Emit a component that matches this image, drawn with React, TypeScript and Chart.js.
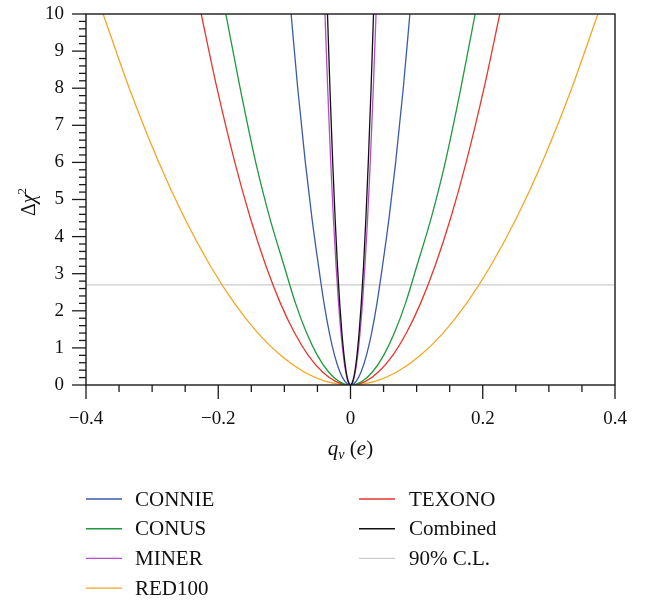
import React, { useEffect, useRef } from 'react';
import { Chart, registerables } from 'chart.js';
Chart.register(...registerables);

// Δχ² levels at which the curve positions were read (shared by all series)
const chiLevels = [0, 0.1, 0.35, 0.8, 1.4, 2.2, 3.2, 4.5, 6, 8, 10];
// |q_ν| (in e) at each Δχ² level (curves are symmetric about 0)
const connieQ = [0, 0.0085, 0.016, 0.0241, 0.0319, 0.04, 0.0483, 0.0583, 0.0683, 0.0798, 0.0898];
const conusQ = [0, 0.0177, 0.0331, 0.0501, 0.0663, 0.0831, 0.1002, 0.122, 0.1433, 0.1669, 0.1885];
const minerQ = [0, 0.0039, 0.0072, 0.0109, 0.0144, 0.0181, 0.0218, 0.0259, 0.0299, 0.0345, 0.0386];
const red100Q = [0, 0.0374, 0.07, 0.1058, 0.14, 0.1755, 0.2116, 0.251, 0.2898, 0.3346, 0.3741];
const texonoQ = [0, 0.0226, 0.0422, 0.0639, 0.0845, 0.1059, 0.1277, 0.1515, 0.1749, 0.2019, 0.2258];
const combinedQ = [0, 0.0035, 0.0065, 0.0098, 0.013, 0.0163, 0.0197, 0.0233, 0.0269, 0.0311, 0.0348];
const clLevel = 2.7;
const xMin = -0.4;
const xMax = 0.4;
const yMin = 0;
const yMax = 10;

const FONT = "'Liberation Serif', 'Times New Roman', serif";

function mirror(q: number[]) {
  const pts: { x: number; y: number }[] = [];
  for (let i = q.length - 1; i > 0; i--) pts.push({ x: -q[i], y: chiLevels[i] });
  for (let i = 0; i < q.length; i++) pts.push({ x: q[i], y: chiLevels[i] });
  return pts;
}

const fmtX = (v: number) => {
  const r = Math.round(v * 10) / 10;
  if (r === 0) return '0';
  return r < 0 ? '\u2212' + Math.abs(r).toFixed(1) : r.toFixed(1);
};

const decorPlugin = {
  id: 'decor',
  afterDraw(chart: any) {
    const { ctx, chartArea: a, scales } = chart;
    const x = scales.x;
    const y = scales.y;
    ctx.save();
    ctx.strokeStyle = '#1a1a1a';
    ctx.lineWidth = 1.4;
    ctx.strokeRect(a.left, a.top, a.right - a.left, a.bottom - a.top);
    // x ticks: major every 0.2, minor every 0.05
    ctx.lineWidth = 1.3;
    for (let i = 0; i <= 16; i++) {
      const px = x.getPixelForValue(xMin + i * 0.05);
      const len = i % 4 === 0 ? 14 : 7;
      ctx.beginPath();
      ctx.moveTo(px, a.bottom);
      ctx.lineTo(px, a.bottom + len);
      ctx.stroke();
    }
    // y ticks: major every 1, minor every 0.2
    for (let i = 0; i <= 50; i++) {
      const py = y.getPixelForValue(i * 0.2);
      const len = i % 5 === 0 ? 14 : 7;
      ctx.beginPath();
      ctx.moveTo(a.left - len, py);
      ctx.lineTo(a.left, py);
      ctx.stroke();
    }

    ctx.fillStyle = '#111';
    // x title: q_ν (e)
    {
      const base = 455;
      const parts = [
        { t: 'q', f: `italic 21px ${FONT}`, dy: 0 },
        { t: '\u03BD', f: `italic 14px ${FONT}`, dy: 4 },
        { t: ' (', f: `21px ${FONT}`, dy: 0 },
        { t: 'e', f: `italic 21px ${FONT}`, dy: 0 },
        { t: ')', f: `21px ${FONT}`, dy: 0 },
      ];
      let w = 0;
      for (const p of parts) { ctx.font = p.f; w += ctx.measureText(p.t).width; }
      let cx = (a.left + a.right) / 2 - w / 2;
      ctx.textBaseline = 'alphabetic';
      ctx.textAlign = 'left';
      for (const p of parts) {
        ctx.font = p.f;
        ctx.fillText(p.t, cx, base + p.dy);
        cx += ctx.measureText(p.t).width;
      }
    }
    // y title: Δχ²
    {
      ctx.save();
      ctx.translate(35, 202);
      ctx.rotate(-Math.PI / 2);
      const parts = [
        { t: '\u0394', f: `20px ${FONT}`, dy: 0 },
        { t: '\u03C7', f: `italic 20px ${FONT}`, dy: 0 },
        { t: '2', f: `13px ${FONT}`, dy: -9 },
      ];
      let w = 0;
      for (const p of parts) { ctx.font = p.f; w += ctx.measureText(p.t).width; }
      let cx = -w / 2;
      ctx.textBaseline = 'alphabetic';
      ctx.textAlign = 'left';
      for (const p of parts) {
        ctx.font = p.f;
        ctx.fillText(p.t, cx, p.dy);
        cx += ctx.measureText(p.t).width;
      }
      ctx.restore();
    }
    // legend: two columns, column-major, 4 rows
    {
      const ds = chart.data.datasets;
      const lineX = [86, 359];
      const textX = [135, 409];
      ctx.font = `21px ${FONT}`;
      ctx.textBaseline = 'middle';
      ctx.textAlign = 'left';
      for (let i = 0; i < ds.length; i++) {
        const col = Math.floor(i / 4);
        const row = i % 4;
        const yy = 499 + row * 29.7;
        ctx.strokeStyle = ds[i].borderColor;
        ctx.lineWidth = 1.4;
        ctx.beginPath();
        ctx.moveTo(lineX[col], yy);
        ctx.lineTo(lineX[col] + 36, yy);
        ctx.stroke();
        ctx.fillStyle = '#111';
        ctx.fillText(ds[i].label, textX[col], yy + 1);
      }
    }
    ctx.restore();
  },
};

export default function App() {
  const ref = useRef<HTMLCanvasElement>(null);
  useEffect(() => {
    if (!ref.current) return;
    const mk = (label: string, q: number[], color: string, order: number) => ({
      label, data: mirror(q), borderColor: color, backgroundColor: color,
      borderWidth: 1.3, pointRadius: 0, fill: false, order,
      cubicInterpolationMode: 'monotone' as const,
    });
    const chart = new Chart(ref.current, {
      type: 'line',
      data: {
        datasets: [
          mk('CONNIE', connieQ, '#3a5bab', 3),
          mk('CONUS', conusQ, '#1e9a3c', 4),
          mk('MINER', minerQ, '#b24fc6', 2),
          mk('RED100', red100Q, '#f5a623', 6),
          mk('TEXONO', texonoQ, '#e8352e', 5),
          mk('Combined', combinedQ, '#111111', 1),
          {
            label: '90% C.L.', data: [{ x: xMin, y: clLevel }, { x: xMax, y: clLevel }],
            borderColor: '#cccccc', backgroundColor: '#cccccc', borderWidth: 1.3,
            pointRadius: 0, fill: false, order: 10,
          },
        ],
      },
      options: {
        responsive: false,
        animation: false,
        layout: { padding: { top: 14, right: 38, left: 0, bottom: 0 } },
        plugins: { legend: { display: false }, tooltip: { enabled: false } },
        scales: {
          x: {
            type: 'linear', min: xMin, max: xMax,
            grid: { display: false, drawTicks: false },
            border: { display: false },
            ticks: {
              stepSize: 0.2, padding: 23, color: '#111', maxRotation: 0, autoSkip: false,
              font: { family: FONT, size: 19 },
              callback: (v: any) => fmtX(Number(v)),
            },
            afterFit: (s: any) => { s.height = 216; s.paddingLeft = 0; s.paddingRight = 0; },
          },
          y: {
            type: 'linear', min: yMin, max: yMax,
            grid: { display: false, drawTicks: false },
            border: { display: false },
            ticks: {
              stepSize: 1, padding: 22, color: '#111', autoSkip: false,
              font: { family: FONT, size: 19 },
            },
            afterFit: (s: any) => { s.width = 86; s.paddingTop = 0; s.paddingBottom = 0; },
          },
        },
      },
      plugins: [decorPlugin],
    });
    return () => chart.destroy();
  }, []);
  return (
    <div style={{ position: 'absolute', left: 0, top: 0, width: 653, height: 601, background: '#fff' }}>
      <canvas ref={ref} width={653} height={601} style={{ display: 'block' }} />
    </div>
  );
}
